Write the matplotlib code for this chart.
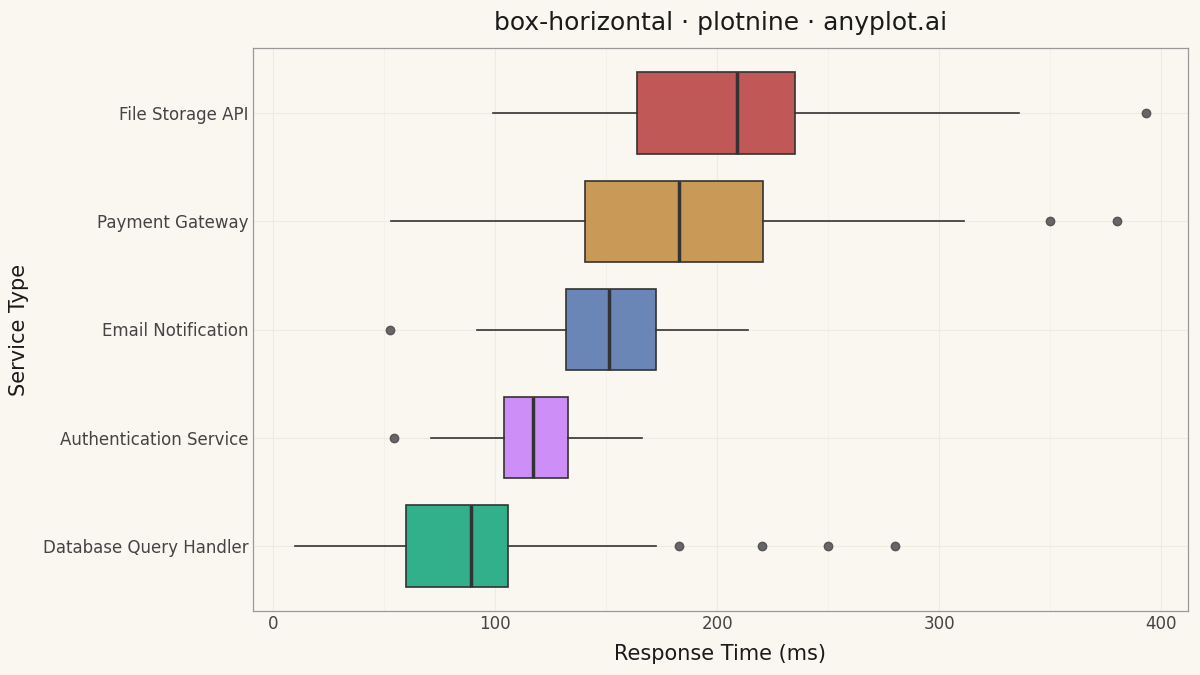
import matplotlib
matplotlib.use("Agg")
import matplotlib.pyplot as plt

categories = ["Database Query Handler", "Authentication Service", "Email Notification",
              "Payment Gateway", "File Storage API"]
whisker_low = [10, 71, 92, 53, 99]
q1 = [60, 104, 132, 140.5, 164]
median = [89, 117, 151.5, 183, 209]
q3 = [106, 133, 172.5, 220.5, 235]
whisker_high = [172.5, 166, 214, 311, 336]
outliers = [[183, 220, 250, 280], [54.5], [52.5], [350, 380], [393]]
colors = ["#32B08B", "#CD8EF8", "#6A86B7", "#C99A57", "#BF5856"]

bg = "#FAF7F1"
fig = plt.figure(figsize=(12, 6.75), dpi=100, facecolor=bg)
ax = fig.add_axes([253/1200, 1 - 611/675, (1188-253)/1200, (611-48)/675])
ax.set_facecolor(bg)

stats = []
for i, c in enumerate(categories):
    stats.append(dict(label=c, whislo=whisker_low[i], q1=q1[i], med=median[i],
                      q3=q3[i], whishi=whisker_high[i], fliers=outliers[i]))

bp = ax.bxp(stats, positions=range(len(categories)), vert=False, widths=0.75,
            patch_artist=True, showcaps=False,
            boxprops=dict(edgecolor="#333333", linewidth=1.2),
            medianprops=dict(color="#333333", linewidth=2.5),
            whiskerprops=dict(color="#333333", linewidth=1.2),
            flierprops=dict(marker="o", markerfacecolor="#666666", markeredgecolor="#555555",
                            markersize=6, linestyle="none"))
for patch, col in zip(bp["boxes"], colors):
    patch.set_facecolor(col)
    patch.set_zorder(2)

ax.set_ylim(-0.6, 4.6)
ax.set_xlim(-9, 412)
ax.set_xticks([0, 100, 200, 300, 400])
ax.set_xticks([50, 150, 250, 350], minor=True)
ax.grid(True, which="major", color="#EEEBE4", linewidth=0.8)
ax.grid(True, which="minor", axis="x", color="#F2EFE9", linewidth=0.6)
ax.set_axisbelow(True)
ax.set_yticks(range(len(categories)))
ax.set_yticklabels(categories)
ax.tick_params(axis="both", which="both", length=0, labelsize=12, colors="#444444", pad=3)
for s in ax.spines.values():
    s.set_color("#999999")
    s.set_linewidth(0.9)

ax.set_xlabel("Response Time (ms)", fontsize=15, color="#1a1a1a", labelpad=8)
ax.set_ylabel("Service Type", fontsize=15, color="#1a1a1a", labelpad=10)
fig.text((253+1188)/2/1200, 1 - 23/675, "box-horizontal · plotnine · anyplot.ai",
         ha="center", va="center", fontsize=18, color="#1a1a1a")

fig.savefig("out.png", dpi=100, facecolor=bg)
